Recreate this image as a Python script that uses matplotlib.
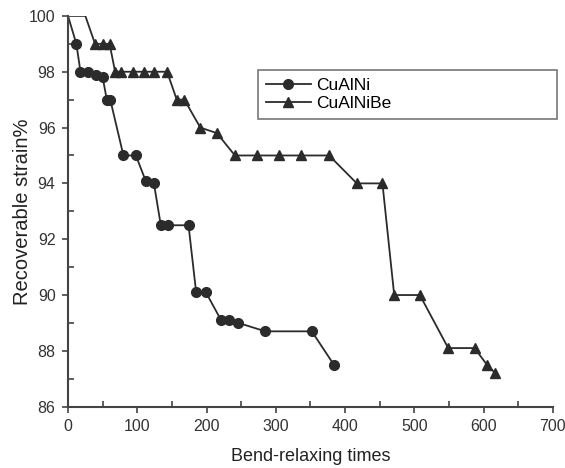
import matplotlib
matplotlib.use('Agg')
import matplotlib.pyplot as plt
from matplotlib.ticker import MultipleLocator

plt.rcParams['font.family'] = ['Liberation Sans', 'DejaVu Sans']

# CuAlNi (circles)
ni_x = [0, 12, 18, 29, 40, 50, 56, 61, 80, 98, 112, 124, 134, 145, 174, 185, 199, 221, 233, 246, 285, 352, 384]
ni_y = [100, 99, 98, 98, 97.9, 97.8, 97, 97, 95, 95, 94.1, 94, 92.5, 92.5, 92.5, 90.1, 90.1, 89.1, 89.1, 89.0, 88.7, 88.7, 87.5]

# CuAlNiBe (triangles)
be_x = [0, 25, 39, 50, 60, 68, 76, 94, 110, 124, 143, 157, 168, 191, 215, 241, 273, 305, 336, 377, 417, 454, 471, 508, 549, 587, 605, 617]
be_y = [100, 100, 99, 99, 99, 98, 98, 98, 98, 98, 98, 97, 97, 96, 95.8, 95, 95, 95, 95, 95, 94, 94, 90, 90, 88.1, 88.1, 87.5, 87.2]

fig = plt.figure(figsize=(5.65, 4.68), dpi=100)
ax = fig.add_axes([0.1204, 0.131, 0.858, 0.835])

c = '#2b2b2b'
# points sitting on the 100% top edge show no marker in the original
ax.plot(ni_x, ni_y, '-o', color=c, lw=1.3, ms=7, markevery=slice(1, None), label='CuAlNi')
ax.plot(be_x, be_y, '-^', color=c, lw=1.3, ms=7, markevery=slice(2, None), label='CuAlNiBe')

ax.set_xlim(0, 700)
ax.set_ylim(86, 100)
ax.xaxis.set_major_locator(MultipleLocator(100))
ax.xaxis.set_minor_locator(MultipleLocator(50))
ax.yaxis.set_major_locator(MultipleLocator(2))
ax.yaxis.set_minor_locator(MultipleLocator(1))
ax.tick_params(which='major', direction='out', length=4, width=1.2, color='#444444',
               labelsize=11.5, labelcolor='#333333', pad=5)
ax.tick_params(which='minor', direction='in', length=4, width=1.2, color='#444444')
ax.spines['top'].set_visible(False)
ax.spines['right'].set_visible(False)
for s in ['left', 'bottom']:
    ax.spines[s].set_linewidth(1.5)
    ax.spines[s].set_color('#444444')
ax.set_xlabel('Bend-relaxing times', fontsize=13, color='#222222', labelpad=10)
ax.set_ylabel('Recoverable strain%', fontsize=14.5, color='#222222', labelpad=-2)

leg = ax.legend(loc='upper left', bbox_to_anchor=(258 / 565, 1 - 121 / 468, 299 / 565, 51 / 468),
                bbox_transform=fig.transFigure, mode='expand', fancybox=False,
                fontsize=12.5, handlelength=2.6, borderpad=0.45, labelspacing=0.15,
                handletextpad=0.3, borderaxespad=0)
leg.get_frame().set_edgecolor('#555555')
leg.get_frame().set_linewidth(1.2)

fig.savefig('out.png', dpi=100)
